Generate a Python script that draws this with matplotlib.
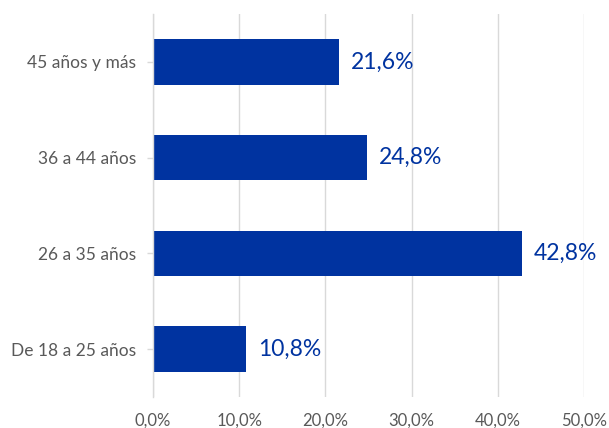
import matplotlib
matplotlib.use("Agg")
import matplotlib.pyplot as plt
from matplotlib.ticker import FuncFormatter

# Age groups, bottom to top as drawn
categories = ["De 18 a 25 años", "26 a 35 años", "36 a 44 años", "45 años y más"]
shares = [10.8, 42.8, 24.8, 21.6]
x_ticks = [0, 10, 20, 30, 40, 50]

BLUE = "#0033A0"
GRAY_TEXT = "#595959"
GRID = "#d9d9d9"

plt.rcParams["font.family"] = ["Lato", "DejaVu Sans"]

fig = plt.figure(figsize=(6.09, 4.28), dpi=100)
ax = fig.add_axes([0.2512, 0.0724, 0.7078, 0.8949])

ypos = range(len(categories))
ax.barh(ypos, shares, height=0.476, color=BLUE, zorder=3)

for y, v in zip(ypos, shares):
    ax.text(v + 1.35, y, f"{v:.1f}%".replace(".", ","), va="center", ha="left",
            fontsize=16.5, color=BLUE, zorder=4)

ax.set_xlim(0, 50)
ax.set_ylim(-0.5, len(categories) - 0.5)
ax.set_xticks(x_ticks)
ax.xaxis.set_major_formatter(FuncFormatter(lambda v, _: f"{v:.1f}%".replace(".", ",")))
ax.set_yticks(list(ypos))
ax.set_yticklabels(categories)

ax.grid(axis="x", color=GRID, linewidth=1.0, zorder=0)
for s in ("top", "right", "bottom"):
    ax.spines[s].set_visible(False)
ax.spines["left"].set_color(GRID)
ax.spines["left"].set_linewidth(1.0)
ax.spines["left"].set_zorder(5)

ax.tick_params(axis="x", length=0, pad=11, labelsize=12, labelcolor=GRAY_TEXT)
ax.tick_params(axis="y", length=4, width=1, color=GRID, pad=8,
               labelsize=12.5, labelcolor=GRAY_TEXT)

fig.savefig("out.png", dpi=100)
